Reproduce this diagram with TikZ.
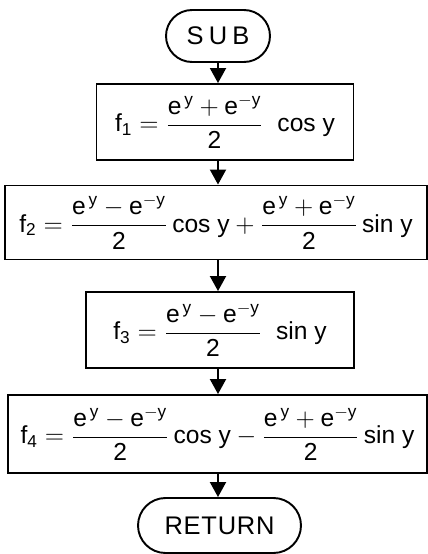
\documentclass[tikz,border=0pt]{standalone}
\usepackage{amsmath}
\usepackage{fontspec}
\setmainfont{Liberation Sans}
\usetikzlibrary{arrows.meta}
\newcommand{\tx}[1]{\textnormal{#1}}
\newcommand{\epos}{\tx{e}^{\,\tx{y}}}
\newcommand{\eneg}{\tx{e}^{-\tx{y}}}
\begin{document}
\begin{tikzpicture}[x=0.02cm, y=-0.02cm,
  term/.style={draw=black, line width=1.1pt, inner sep=0pt, minimum height=1.04cm,
    font=\fontsize{14.5}{17}\selectfont},
  calc/.style={draw=black, line width=1.1pt, inner sep=0pt, font=\fontsize{14}{17}\selectfont},
  flow/.style={draw=black, line width=1.1pt, -{Triangle[width=0.32cm, length=0.3cm]}}]
\useasboundingbox (0,0) rectangle (428,554);
\node[term, minimum width=2.08cm, rounded corners=0.52cm] (sub) at (218,36)
  {\addfontfeature{LetterSpace=20}SUB};
\node[calc, minimum width=5.14cm, minimum height=1.52cm] (f1) at (225,122)
  {$\displaystyle \tx{f}_{\tx{1}} = \frac{\epos + \eneg}{\tx{2}}\;\;\tx{cos y}$};
\node[calc, minimum width=8.44cm, minimum height=1.48cm] (f2) at (216,222.5)
  {$\displaystyle \tx{f}_{\tx{2}} = \frac{\epos - \eneg}{\tx{2}}\,\tx{cos y} + \frac{\epos + \eneg}{\tx{2}}\,\tx{sin y}$};
\node[calc, minimum width=5.36cm, minimum height=1.52cm] (f3) at (220,330)
  {$\displaystyle \tx{f}_{\tx{3}} = \frac{\epos - \eneg}{\tx{2}}\;\;\tx{sin y}$};
\node[calc, minimum width=8.38cm, minimum height=1.56cm] (f4) at (217.5,434)
  {$\displaystyle \tx{f}_{\tx{4}} = \frac{\epos - \eneg}{\tx{2}}\,\tx{cos y} - \frac{\epos + \eneg}{\tx{2}}\,\tx{sin y}$};
\node[term, minimum width=3.26cm, minimum height=1.10cm, rounded corners=0.55cm] (ret) at (219.5,525.5)
  {\addfontfeature{LetterSpace=3}RETURN};
\draw[flow] (sub.south) -- (sub.south |- f1.north);
\draw[flow] (sub.south |- f1.south) -- (sub.south |- f2.north);
\draw[flow] (sub.south |- f2.south) -- (sub.south |- f3.north);
\draw[flow] (sub.south |- f3.south) -- (sub.south |- f4.north);
\draw[flow] (sub.south |- f4.south) -- (sub.south |- ret.north);
\end{tikzpicture}
\end{document}
